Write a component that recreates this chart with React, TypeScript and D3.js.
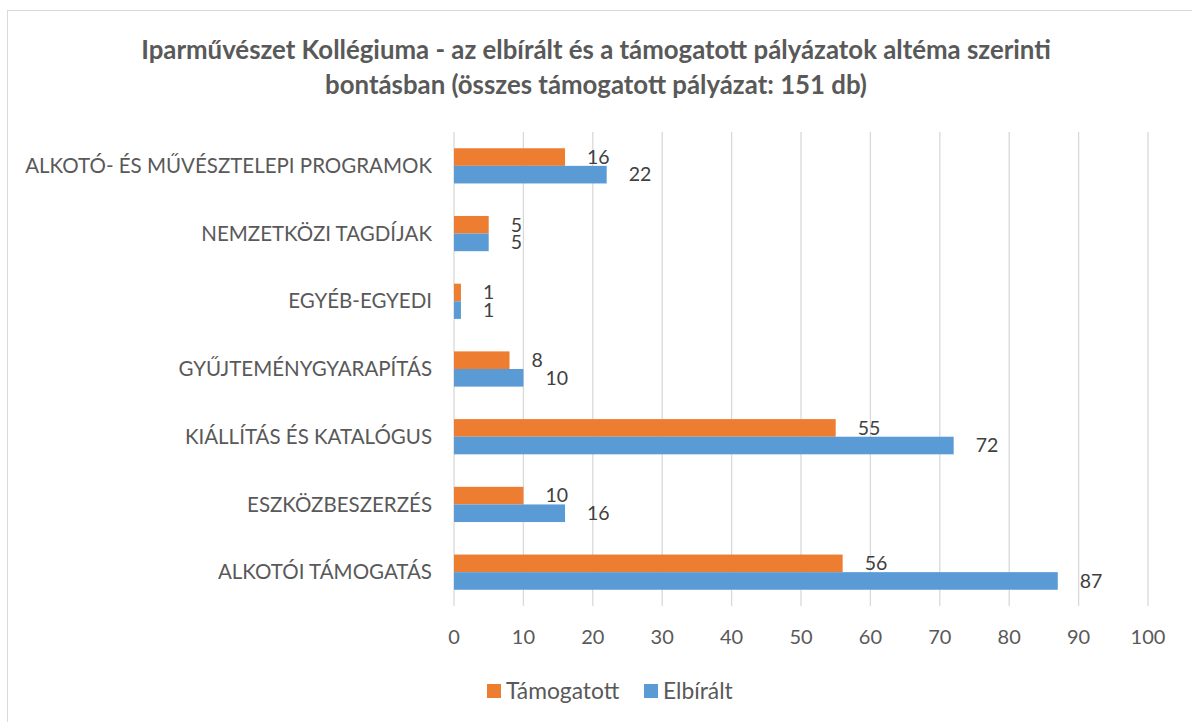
import React from 'react';
import * as d3 from 'd3';

const categories = [
  'ALKOTÓ- ÉS MŰVÉSZTELEPI PROGRAMOK',
  'NEMZETKÖZI TAGDÍJAK',
  'EGYÉB-EGYEDI',
  'GYŰJTEMÉNYGYARAPÍTÁS',
  'KIÁLLÍTÁS ÉS KATALÓGUS',
  'ESZKÖZBESZERZÉS',
  'ALKOTÓI TÁMOGATÁS',
];
const tamogatott = [16, 5, 1, 8, 55, 10, 56];
const elbiralt = [22, 5, 1, 10, 72, 16, 87];
const seriesNames = ['Támogatott', 'Elbírált'];
const seriesColors = ['#ED7D31', '#5B9BD5'];
const xTicks = [0, 10, 20, 30, 40, 50, 60, 70, 80, 90, 100];

const W = 1192;
const H = 722;
const font = 'Lato, "Open Sans", sans-serif';
const textColor = '#595959';

const App = () => {
  const x = d3.scaleLinear().domain([0, 100]).range([454, 1148]);
  const y = d3.scaleBand<string>()
    .domain(categories)
    .range([132, 606])
    .paddingInner(0.48)
    .paddingOuter(0.24);
  const ySeries = d3.scaleBand<string>()
    .domain(seriesNames)
    .range([0, y.bandwidth()]);

  const values = [tamogatott, elbiralt];

  return (
    <svg width={W} height={H} style={{ position: 'absolute', left: 0, top: 0 }}>
      <rect x={0} y={0} width={W} height={H} fill="#fff" />
      <rect x={7.5} y={10.5} width={W} height={H} fill="none" stroke="#d9d9d9" />

      {/* Cím */}
      <text x={596} y={59} textAnchor="middle" fontFamily={font} fontWeight="bold" fontSize={25.8} fill={textColor}>
        Iparművészet Kollégiuma - az elbírált és a támogatott pályázatok altéma szerinti
      </text>
      <text x={596} y={94} textAnchor="middle" fontFamily={font} fontWeight="bold" fontSize={25.8} fill={textColor}>
        bontásban (összes támogatott pályázat: 151 db)
      </text>

      {/* Rácsvonalak */}
      {xTicks.map(t => (
        <line key={t} x1={x(t)} x2={x(t)} y1={132} y2={606} stroke="#d9d9d9" strokeWidth={1.3} />
      ))}

      {/* Oszlopok */}
      {categories.map((c, i) => (
        <g key={c}>
          {seriesNames.map((s, j) => {
            const v = values[j][i];
            const by = (y(c) as number) + (ySeries(s) as number);
            return (
              <g key={s}>
                <rect x={x(0)} y={by} width={x(v) - x(0)} height={ySeries.bandwidth()} fill={seriesColors[j]} />
                <text x={x(v) + 22} y={by + ySeries.bandwidth() / 2} dy="0.35em" fontFamily={font} fontSize={19.5} fill="#404040">
                  {v}
                </text>
              </g>
            );
          })}
          <text x={432} y={(y(c) as number) + y.bandwidth() / 2} dy="0.35em" textAnchor="end" fontFamily={font} fontSize={20.5} fill={textColor}>
            {c}
          </text>
        </g>
      ))}

      {/* Tengelyfeliratok */}
      {xTicks.map(t => (
        <text key={t} x={x(t)} y={637} dy="0.35em" textAnchor="middle" fontFamily={font} fontSize={20} fill={textColor}>
          {t}
        </text>
      ))}

      {/* Jelmagyarázat */}
      <rect x={487} y={684} width={14} height={14} fill={seriesColors[0]} />
      <text x={506} y={691} dy="0.35em" fontFamily={font} fontSize={22.8} fill={textColor}>{seriesNames[0]}</text>
      <rect x={644} y={684} width={14} height={14} fill={seriesColors[1]} />
      <text x={663} y={691} dy="0.35em" fontFamily={font} fontSize={22.8} fill={textColor}>{seriesNames[1]}</text>
    </svg>
  );
};

export default App;
